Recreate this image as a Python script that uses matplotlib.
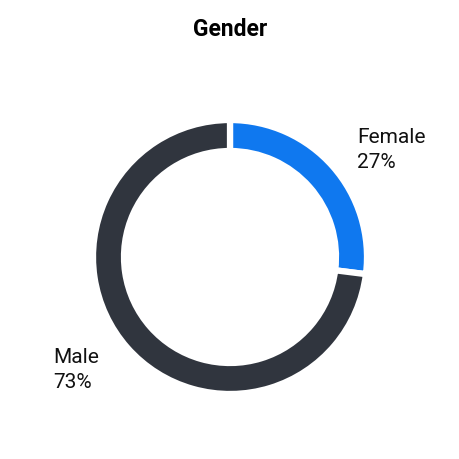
import matplotlib
matplotlib.use("Agg")
import matplotlib.pyplot as plt

labels = ["Female", "Male"]
values = [27, 73]
colors = ["#0f78ef", "#30353e"]
title = "Gender"

W = H = 460
fig = plt.figure(figsize=(4.6, 4.6), dpi=100)
ax = fig.add_axes([0, 0, 1, 1])
ax.set_xlim(0, W)
ax.set_ylim(0, H)
ax.set_aspect("equal")
ax.axis("off")

cx, cy, R = 230, H - 258, 137
ax.pie(values, colors=colors, startangle=90, counterclock=False,
       center=(cx, cy), radius=R,
       wedgeprops=dict(width=31, edgecolor="white", linewidth=4.5))
ax.set_xlim(0, W)
ax.set_ylim(0, H)

fig.text(0.5, 1 - 29 / H, title, ha="center", va="center",
         fontsize=16.5, fontweight="bold", family="Roboto")

label_pos = {"Female": (357, 150), "Male": (53, 370)}
for lab, v in zip(labels, values):
    x, y = label_pos[lab]
    ax.text(x, H - y, f"{lab}\n{v}%", ha="left", va="center",
            fontsize=15, family="Roboto", color="#111111", linespacing=1.4)

fig.savefig("out.png", dpi=100, facecolor="white")
